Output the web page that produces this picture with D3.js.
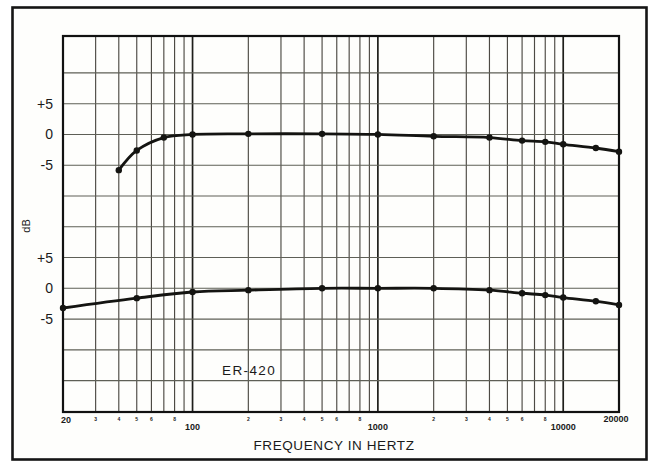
<!DOCTYPE html>
<html>
<head>
<meta charset="utf-8">
<script src="https://cdn.jsdelivr.net/npm/d3@7"></script>
<style>
  html, body { margin: 0; padding: 0; background: #ffffff; }
  svg { display: block; }
  text { font-family: "Liberation Sans", Arial, sans-serif; fill: #1a1a1a; }
</style>
</head>
<body>
<svg id="chart" width="657" height="462"></svg>
<script>
// ---- data ----
const upperFreq = [40, 50, 70, 100, 200, 500, 1000, 2000, 4000, 6000, 8000, 10000, 15000, 20000];
const upperDb   = [-5.8, -2.6, -0.5, 0, 0.1, 0.1, 0, -0.3, -0.5, -1.0, -1.2, -1.6, -2.2, -2.8];
const lowerFreq = [20, 50, 100, 200, 500, 1000, 2000, 4000, 6000, 8000, 10000, 15000, 20000];
const lowerDb   = [-3.2, -1.6, -0.6, -0.3, 0, 0, 0, -0.3, -0.8, -1.1, -1.5, -2.1, -2.7];
const upperOffset = 25;          // upper panel drawn 25 dB (5 grid rows) above the lower one
const yTickLabels = ["+5", "0", "-5"];
const yTickValues = [5, 0, -5];
const majorXLabels = [20, 100, 1000, 10000, 20000];
const minorDigits = [2, 3, 4, 5, 6, 8];
const gridDb = [-15, -10, -5, 0, 5, 10, 15, 20, 25, 30, 35];

// ---- layout ----
const svg = d3.select("#chart");
const L = 63, R = 619, T = 36, B = 412;

const x = d3.scaleLog().domain([20, 20000]).range([L, R]);
const y = d3.scaleLinear().domain([-20.1, 41]).range([B, T]);

// outer frame
svg.append("rect").attr("x", 12.5).attr("y", 7.5).attr("width", 634).attr("height", 452)
  .attr("fill", "#fefefc").attr("stroke", "#151515").attr("stroke-width", 2.6);

// vertical grid
const vLines = [];
for (let dec = 10; dec <= 10000; dec *= 10) {
  for (let m = 1; m <= 9; m++) {
    const f = dec * m;
    if (f > 20 && f < 20000) vLines.push(f);
  }
}
svg.append("g").selectAll("line").data(vLines).join("line")
  .attr("x1", d => x(d)).attr("x2", d => x(d))
  .attr("y1", T).attr("y2", B)
  .attr("stroke", d => (Math.log10(d) % 1 === 0) ? "#1e1e1a" : "#4d4a44")
  .attr("stroke-width", d => (Math.log10(d) % 1 === 0) ? 1.7 : 1.15);

// horizontal grid
svg.append("g").selectAll("line").data(gridDb).join("line")
  .attr("x1", L).attr("x2", R)
  .attr("y1", d => y(d)).attr("y2", d => y(d))
  .attr("stroke", "#5e5f56").attr("stroke-width", 1.1);

// plot frame
svg.append("rect").attr("x", L).attr("y", T).attr("width", R - L).attr("height", B - T)
  .attr("fill", "none").attr("stroke", "#111").attr("stroke-width", 2.2);

// y tick labels for both panels
const yLab = svg.append("g").attr("font-size", 14).attr("text-anchor", "end");
[0, upperOffset].forEach(off => {
  yTickValues.forEach((v, i) => {
    yLab.append("text").attr("x", 53).attr("y", y(v + off) + 5).text(yTickLabels[i]);
  });
});
svg.append("text").attr("transform", `translate(30,226) rotate(-90)`)
  .attr("font-size", 11).attr("text-anchor", "middle").text("dB");

// x axis labels
const xl = svg.append("g").attr("font-size", 9).attr("font-weight", "bold");
majorXLabels.forEach(f => {
  let tx = x(f), ty = 430, anchor = "middle";
  if (f === 20) { tx = x(f) - 2; ty = 423; anchor = "start"; }
  if (f === 20000) { tx = x(f) - 3; ty = 422; }
  xl.append("text").attr("x", tx).attr("y", ty).attr("text-anchor", anchor).text(f);
});
const minorF = [];
[10, 100, 1000].forEach(dec => minorDigits.forEach(m => { if (dec * m > 20) minorF.push([dec * m, m]); }));
svg.append("g").attr("font-size", 5).attr("font-weight", "bold").attr("text-anchor", "middle")
  .selectAll("text").data(minorF).join("text")
  .attr("x", d => x(d[0])).attr("y", 421).attr("fill", "#444").text(d => d[1]);

svg.append("text").attr("x", 334).attr("y", 450).attr("text-anchor", "middle")
  .attr("font-size", 13.5).attr("letter-spacing", 0.6).text("FREQUENCY IN HERTZ");

svg.append("text").attr("x", 222).attr("y", 375).attr("font-size", 13.5)
  .attr("letter-spacing", 1.4).text("ER-420");

// curves
const line = d3.line().curve(d3.curveCatmullRom.alpha(0.5));
function drawCurve(freqs, dbs, off) {
  const pts = freqs.map((f, i) => [x(f), y(dbs[i] + off)]);
  svg.append("path").attr("d", line(pts)).attr("fill", "none")
    .attr("stroke", "#141411").attr("stroke-width", 2.8).attr("stroke-linecap", "round");
  svg.append("g").selectAll("circle").data(pts).join("circle")
    .attr("cx", d => d[0]).attr("cy", d => d[1]).attr("r", 3.2).attr("fill", "#141411");
}
drawCurve(upperFreq, upperDb, upperOffset);
drawCurve(lowerFreq, lowerDb, 0);
</script>
</body>
</html>
